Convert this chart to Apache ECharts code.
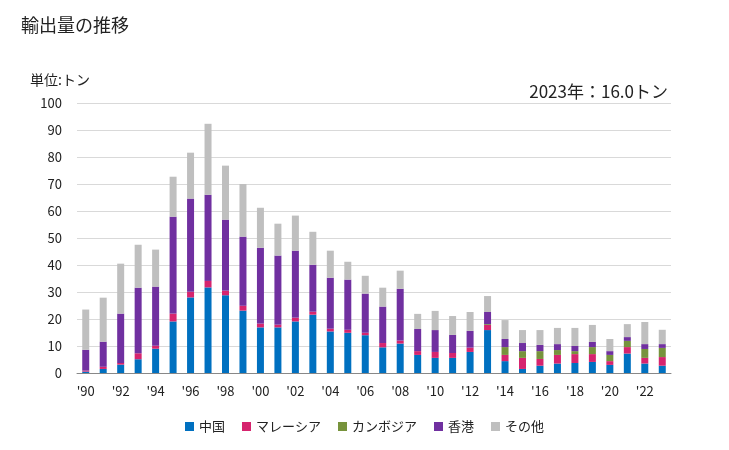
<!DOCTYPE html>
<html><head><meta charset="utf-8">
<script src="https://cdn.jsdelivr.net/npm/echarts@6/dist/echarts.min.js"></script>
<style>html,body{margin:0;padding:0;background:#fff}#c{width:729px;height:450px}</style>
</head><body><div id="c"></div>
<script>
const years = [];
for (let y = 1990; y <= 2023; y++) years.push(String(y));
const china    = [0.5,1.5,3.1,5.1,9.0,19.1,28.0,31.7,28.8,23.1,16.9,16.9,19.1,21.6,15.4,14.9,14.0,9.5,10.9,6.7,5.6,5.6,7.8,15.9,4.4,1.5,2.7,3.5,3.7,4.1,3.0,7.2,3.5,2.7];
const malaysia = [0.4,0.8,0.6,2.2,1.1,2.9,2.1,2.4,1.7,1.8,1.4,1.0,1.4,1.1,1.0,1.1,0.9,1.6,1.1,1.4,2.2,1.8,1.6,1.9,2.3,4.1,2.5,3.2,3.3,2.9,1.4,2.4,2.1,3.2];
const cambodia = [0,0,0,0,0,0,0,0,0,0,0,0,0,0,0,0,0,0,0,0,0,0,0,0.3,2.9,2.5,2.9,1.8,1.1,2.6,2.3,2.3,3.3,3.4];
const hongkong = [7.7,9.3,18.3,24.3,21.9,35.9,34.5,31.9,26.3,25.6,28.1,25.6,24.8,17.4,18.9,18.6,14.5,13.5,19.2,8.2,8.1,6.7,6.2,4.5,3.0,3.0,2.3,2.2,1.9,1.9,1.4,1.4,1.8,1.4];
const others   = [14.9,16.3,18.5,15.9,13.7,14.8,17.0,26.3,20.0,19.5,14.8,11.8,13.0,12.2,10.0,6.6,6.6,7.0,6.7,5.6,7.1,7.0,7.0,5.9,7.0,4.8,5.5,6.0,6.7,6.3,4.5,4.8,8.2,5.3];
const yTicks = [0,10,20,30,40,50,60,70,80,90,100];
const font = '"Noto Sans CJK JP","Noto Sans",sans-serif';
const colors = ['#0070C0','#D6246E','#77933C','#7030A0','#BFBFBF'];
const names = ['中国','マレーシア','カンボジア','香港','その他'];
const datas = [china, malaysia, cambodia, hongkong, others];
const chart = echarts.init(document.getElementById('c'), null, {renderer:'canvas'});
chart.setOption({
  animation:false,
  textStyle:{fontFamily:font},
  title:[
    {text:'輸出量の推移', left:16, top:11, textStyle:{fontSize:18, fontWeight:'normal', color:'#222', fontFamily:font}},
    {text:'単位:トン', left:25, top:68, textStyle:{fontSize:14, fontWeight:'normal', color:'#222', fontFamily:font}},
    {text:'2023年：16.0トン', right:56, top:78, textStyle:{fontSize:17, fontWeight:'normal', color:'#222', fontFamily:font}}
  ],
  legend:{top:415, left:'center', itemWidth:9, itemHeight:9, itemGap:17, icon:'rect',
    textStyle:{fontSize:13, color:'#222', fontFamily:font}, data:names},
  grid:{left:77, right:58, top:103, bottom:77, containLabel:false},
  xAxis:{type:'category', data:years,
    axisLine:{lineStyle:{color:'#888'}}, axisTick:{show:false},
    axisLabel:{interval:1, color:'#222', fontSize:13, margin:12, formatter:v=>"'"+v.slice(2)}},
  yAxis:{type:'value', min:yTicks[0], max:yTicks[yTicks.length-1], interval:10,
    axisLine:{show:false}, axisTick:{show:false},
    axisLabel:{color:'#222', fontSize:13, margin:15},
    splitLine:{lineStyle:{color:'#d9d9d9'}}},
  series: names.map((n,i)=>({name:n, type:'bar', stack:'t', barWidth:7, data:datas[i], itemStyle:{color:colors[i]}}))
});
</script></body></html>
